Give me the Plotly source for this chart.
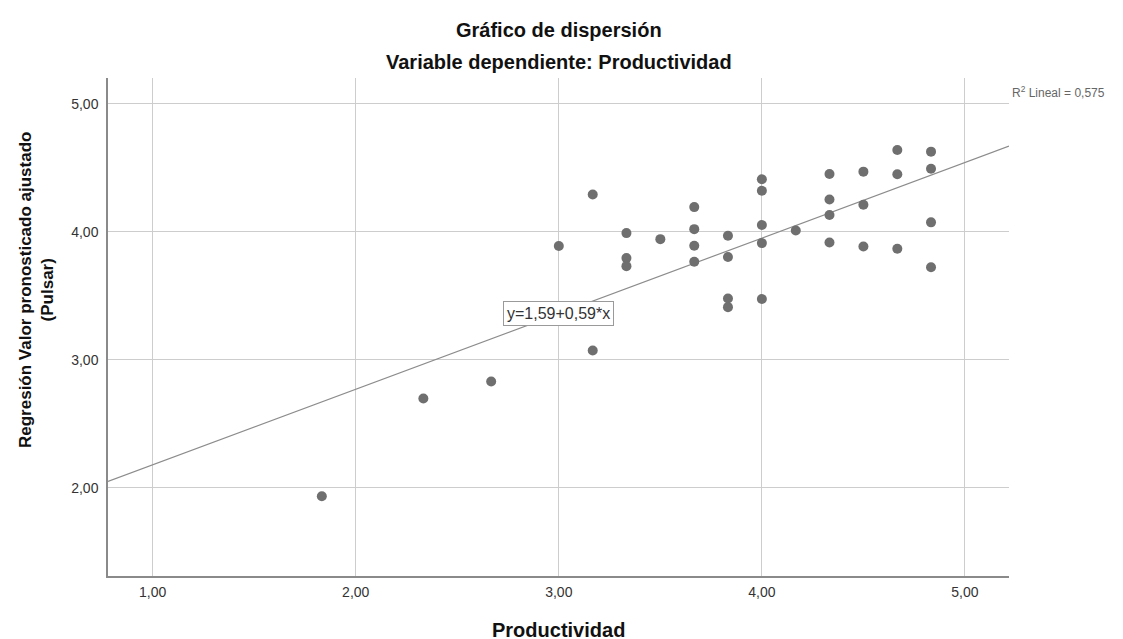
import plotly.graph_objects as go

# Data
productividad = [1.833, 2.333, 2.667, 3.0,
                 3.167, 3.167,
                 3.333, 3.333, 3.333,
                 3.5,
                 3.667, 3.667, 3.667, 3.667,
                 3.833, 3.833, 3.833, 3.833,
                 4.0, 4.0, 4.0, 4.0, 4.0,
                 4.167,
                 4.333, 4.333, 4.333, 4.333,
                 4.5, 4.5, 4.5,
                 4.667, 4.667, 4.667,
                 4.833, 4.833, 4.833, 4.833]
valor_pronosticado = [1.934, 2.698, 2.830, 3.888,
                      4.291, 3.073,
                      3.989, 3.794, 3.731,
                      3.942,
                      4.192, 4.020, 3.891, 3.766,
                      3.969, 3.802, 3.479, 3.411,
                      4.409, 4.320, 4.052, 3.911, 3.474,
                      4.010,
                      4.450, 4.252, 4.130, 3.916,
                      4.469, 4.211, 3.885,
                      4.638, 4.448, 3.867,
                      4.625, 4.492, 4.073, 3.723]

intercepto = 1.59
pendiente = 0.59
r2 = "0,575"

x_ticks = [1, 2, 3, 4, 5]
y_ticks = [2, 3, 4, 5]
x_range = [0.78, 5.217]
y_range = [1.312, 5.2]

FONT = "Liberation Sans, Arial, sans-serif"

# plot area in screen pixels (the page body adds an 8px offset)
PL, PR, PT, PB = 108, 1009, 78, 576
PW, PH = PR - PL, PB - PT

def px(x):
    return (x - PL) / PW

def py(y):
    return (PB - y) / PH

fig = go.Figure()

fig.add_trace(go.Scatter(
    x=x_range,
    y=[intercepto + pendiente * v for v in x_range],
    mode="lines",
    line=dict(color="#8c8c8c", width=1.2),
    hoverinfo="skip",
    showlegend=False,
))

fig.add_trace(go.Scatter(
    x=productividad,
    y=valor_pronosticado,
    mode="markers",
    marker=dict(color="#6f6f6f", size=10, line=dict(width=0)),
    showlegend=False,
))

fig.update_layout(
    width=1115, height=631,
    margin=dict(l=PL - 8, r=1123 - PR, t=PT - 8, b=639 - PB),
    paper_bgcolor="white",
    plot_bgcolor="white",
    separators=",.",
    font=dict(family=FONT, color="#333333"),
    showlegend=False,
)

fig.update_xaxes(
    range=x_range, tickvals=x_ticks, tickformat=".2f",
    showgrid=True, gridcolor="#cdcdcd", gridwidth=1,
    showline=True, linecolor="#8a8a8a", linewidth=1.5,
    zeroline=False, ticks="", ticklabelstandoff=2,
    tickfont=dict(size=14, color="#333333"),
)
fig.update_yaxes(
    range=y_range, tickvals=y_ticks, tickformat=".2f",
    showgrid=True, gridcolor="#cdcdcd", gridwidth=1,
    showline=True, linecolor="#8a8a8a", linewidth=1.5,
    zeroline=False, ticks="", ticklabelstandoff=5,
    tickfont=dict(size=14, color="#333333"),
)

annotations = [
    dict(text="<b>Gráfico de dispersión</b>", xref="paper", yref="paper",
         x=0.5, y=py(30), xanchor="center", yanchor="middle",
         showarrow=False, font=dict(size=20, color="#111111", family=FONT)),
    dict(text="<b>Variable dependiente: Productividad</b>", xref="paper", yref="paper",
         x=0.5, y=py(62), xanchor="center", yanchor="middle",
         showarrow=False, font=dict(size=20, color="#111111", family=FONT)),
    dict(text="<b>Productividad</b>", xref="paper", yref="paper",
         x=0.5, y=py(630), xanchor="center", yanchor="middle",
         showarrow=False, font=dict(size=20, color="#111111", family=FONT)),
    dict(text="<b>Regresión Valor pronosticado ajustado<br>(Pulsar)</b>",
         xref="paper", yref="paper",
         x=px(36), y=py(290), xanchor="center", yanchor="middle",
         textangle=-90, showarrow=False,
         font=dict(size=17, color="#111111", family=FONT)),
    dict(text="R<sup>2</sup> Lineal = " + r2, xref="paper", yref="y",
         x=1.0, y=5.09, xanchor="left", yanchor="middle", xshift=1,
         showarrow=False, font=dict(size=12, color="#666666", family=FONT)),
    dict(text="y=1,59+0,59*x", xref="x", yref="y",
         x=3.0, y=intercepto + pendiente * 3.0, xanchor="center", yanchor="middle",
         showarrow=False, bgcolor="white", bordercolor="#9a9a9a", borderwidth=1,
         borderpad=3, font=dict(size=16, color="#333333", family=FONT)),
]
fig.update_layout(annotations=annotations)

fig.write_html("out.html")
